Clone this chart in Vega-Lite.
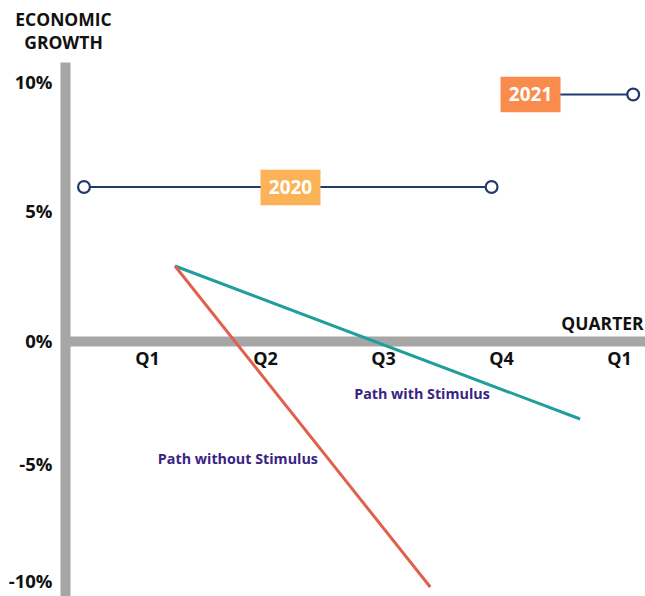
{
  "$schema": "https://vega.github.io/schema/vega-lite/v6.json",
  "autosize": "none",
  "width": 580,
  "height": 534,
  "padding": {"left": 65, "top": 62, "right": 0, "bottom": 0},
  "background": "white",
  "config": {"view": {"stroke": null}, "font": "Open Sans"},
  "datasets": {
    "lines": [
      {"series": "2020", "q": 0.466, "g": 6.16},
      {"series": "2020", "q": 3.92, "g": 6.16},
      {"series": "2021", "q": 4.25, "g": 9.86},
      {"series": "2021", "q": 5.12, "g": 9.86},
      {"series": "with", "q": 1.237, "g": 3.0},
      {"series": "with", "q": 4.67, "g": -3.12},
      {"series": "without", "q": 1.237, "g": 3.0},
      {"series": "without", "q": 3.40, "g": -9.84}
    ],
    "ends": [
      {"q": 0.466, "g": 6.16},
      {"q": 3.92, "g": 6.16},
      {"q": 5.12, "g": 9.86}
    ],
    "years": [
      {"year": "2020", "q": 2.216, "g": 6.14},
      {"year": "2021", "q": 4.25, "g": 9.86}
    ],
    "notes": [
      {"label": "Path with Stimulus", "q": 3.33, "g": -2.16},
      {"label": "Path without Stimulus", "q": 1.77, "g": -4.76}
    ]
  },
  "encoding": {
    "x": {
      "field": "q", "type": "quantitative",
      "scale": {"domain": [0.305, 5.22], "nice": false, "zero": false},
      "axis": {
        "orient": "bottom", "offset": -255,
        "values": [1, 2, 3, 4, 5],
        "labelExpr": "datum.value == 5 ? 'Q1' : 'Q' + datum.value",
        "domainColor": "#A6A6A6", "domainWidth": 10, "ticks": false, "grid": false,
        "labelFont": "Open Sans", "labelFontWeight": "bold", "labelFontSize": 18,
        "labelColor": "#111111", "labelPadding": 9,
        "title": "QUARTER", "titleX": 537, "titleY": -17,
        "titleAlign": "center", "titleBaseline": "middle",
        "titleFont": "Open Sans", "titleFontWeight": "bold", "titleFontSize": 17.5, "titleColor": "#111111"
      }
    },
    "y": {
      "field": "g", "type": "quantitative",
      "scale": {"domain": [-10.2, 11.16], "nice": false, "zero": false},
      "axis": {
        "values": [-10, -5, 0, 5, 10],
        "labelExpr": "datum.value + '%'",
        "domainColor": "#A6A6A6", "domainWidth": 10, "ticks": false, "grid": false,
        "labelFont": "Open Sans", "labelFontWeight": "bold", "labelFontSize": 18.5,
        "labelColor": "#111111", "labelPadding": 13,
        "labelOffset": {"condition": [
          {"test": "datum.value == 10", "value": -9},
          {"test": "datum.value == 5", "value": -5},
          {"test": "datum.value == -5", "value": -2},
          {"test": "datum.value == -10", "value": -10}
        ], "value": 0},
        "title": ["ECONOMIC", "GROWTH"], "titleAngle": 0,
        "titleX": -2, "titleY": -51, "titleAlign": "center", "titleBaseline": "top",
        "titleLineHeight": 23,
        "titleFont": "Open Sans", "titleFontWeight": "bold", "titleFontSize": 17.5, "titleColor": "#111111"
      }
    }
  },
  "layer": [
    {
      "data": {"name": "lines"},
      "transform": [{"filter": "datum.series == '2020' || datum.series == '2021'"}],
      "mark": {"type": "line", "color": "#1F3A6B", "strokeWidth": 2},
      "encoding": {"detail": {"field": "series"}}
    },
    {
      "data": {"name": "lines"},
      "transform": [{"filter": "datum.series == 'with'"}],
      "mark": {"type": "line", "color": "#1F9E9C", "strokeWidth": 3}
    },
    {
      "data": {"name": "lines"},
      "transform": [{"filter": "datum.series == 'without'"}],
      "mark": {"type": "line", "color": "#E0614B", "strokeWidth": 3}
    },
    {
      "data": {"name": "ends"},
      "mark": {"type": "point", "shape": "circle", "size": 140, "filled": true, "fill": "white", "stroke": "#1F3A6B", "strokeWidth": 2.2, "opacity": 1}
    },
    {
      "data": {"name": "years"},
      "mark": {"type": "point", "shape": "M-1,-0.593L1,-0.593L1,0.593L-1,0.593Z", "size": 3600, "filled": true, "opacity": 1, "strokeWidth": 0},
      "encoding": {
        "color": {"field": "year", "type": "nominal", "scale": {"domain": ["2020", "2021"], "range": ["#FCB357", "#F98C4D"]}, "legend": null}
      }
    },
    {
      "data": {"name": "years"},
      "mark": {"type": "text", "color": "white", "font": "Open Sans", "fontWeight": "bold", "fontSize": 19, "baseline": "middle", "align": "center"},
      "encoding": {"text": {"field": "year"}}
    },
    {
      "data": {"name": "notes"},
      "mark": {"type": "text", "color": "#3A2483", "font": "Open Sans", "fontWeight": "bold", "fontSize": 14.3, "baseline": "middle", "align": "center"},
      "encoding": {"text": {"field": "label"}}
    }
  ]
}
